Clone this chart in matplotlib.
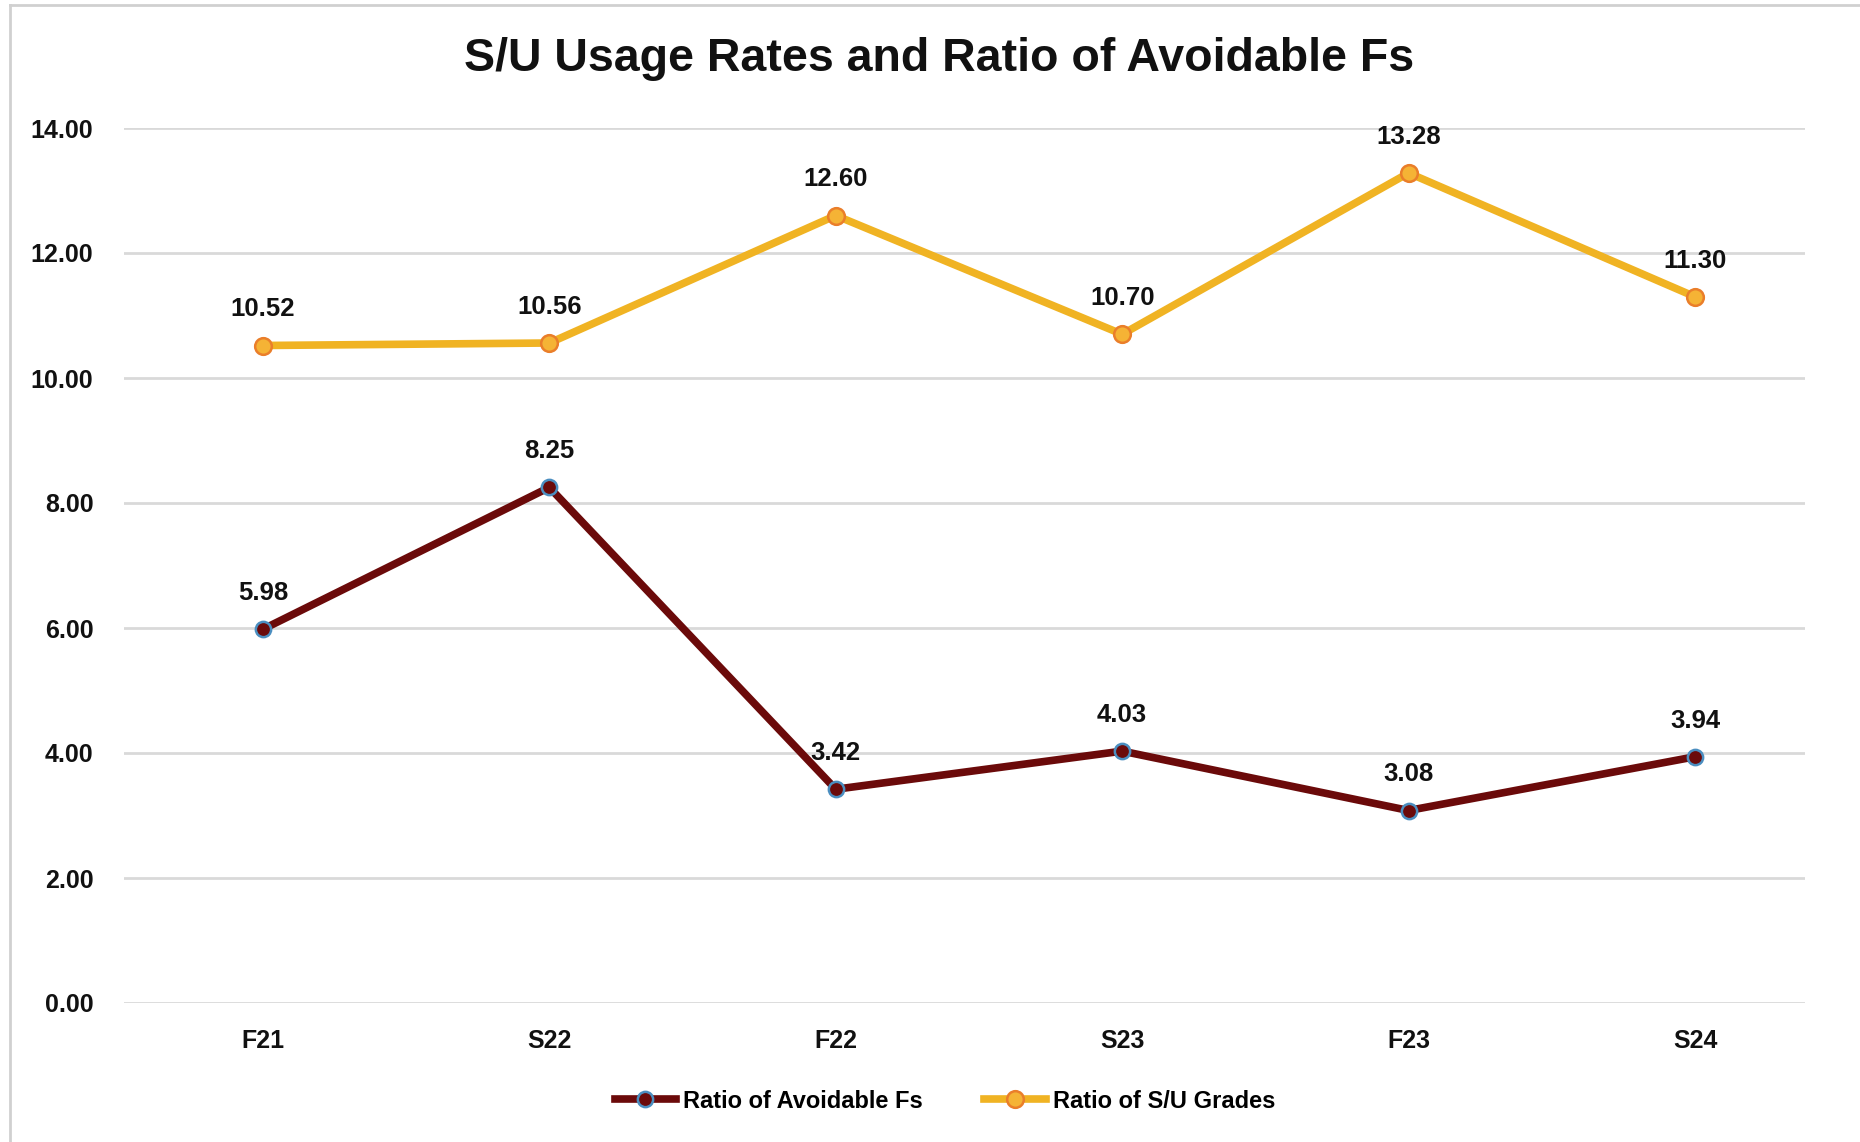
import matplotlib
matplotlib.use("Agg")
import matplotlib.pyplot as plt
from matplotlib.lines import Line2D

categories = ["F21", "S22", "F22", "S23", "F23", "S24"]
avoidable_fs = [5.98, 8.25, 3.42, 4.03, 3.08, 3.94]
su_grades = [10.52, 10.56, 12.60, 10.70, 13.28, 11.30]
y_ticks = [0, 2, 4, 6, 8, 10, 12, 14]

plt.rcParams['font.family'] = ['Liberation Sans', 'DejaVu Sans']

W, H = 1860, 1142
fig = plt.figure(figsize=(W / 100, H / 100), dpi=100)
ax = fig.add_axes([124 / W, 1 - 1003 / H, (1805 - 124) / W, (1003 - 128) / H])

x = list(range(len(categories)))
maroon = "#6B0A0A"
gold = "#F0B323"
LW = 5.5

ax.plot(x, avoidable_fs, color=maroon, lw=LW, marker='o', ms=11,
        mfc=maroon, mec="#4B8EC0", mew=1.8, zorder=3, solid_capstyle='round',
        label="Ratio of Avoidable Fs")
ax.plot(x, su_grades, color=gold, lw=LW, marker='o', ms=12,
        mfc="#F5B335", mec="#EA7E2A", mew=1.8, zorder=3, solid_capstyle='round',
        label="Ratio of S/U Grades")

for xi, v in zip(x, avoidable_fs):
    ax.annotate(f"{v:.2f}", (xi, v), xytext=(0, 26), textcoords='offset points',
                ha='center', va='center', fontsize=18.5, fontweight='bold', color='#111111')
for xi, v in zip(x, su_grades):
    ax.annotate(f"{v:.2f}", (xi, v), xytext=(0, 26), textcoords='offset points',
                ha='center', va='center', fontsize=18.5, fontweight='bold', color='#111111',
                annotation_clip=False)

ax.set_ylim(0, 14)
ax.set_xlim(-0.485, 5.384)
ax.set_yticks(y_ticks)
ax.set_yticklabels([f"{t:.2f}" for t in y_ticks], fontsize=18, fontweight='bold')
ax.set_xticks(x)
ax.set_xticklabels(categories, fontsize=18, fontweight='bold')
ax.tick_params(axis='both', length=0, colors='#111111')
ax.tick_params(axis='y', pad=22)
ax.tick_params(axis='x', pad=19)
for s in ax.spines.values():
    s.set_visible(False)
ax.grid(axis='y', color='#D9D9D9', lw=2)
ax.set_axisbelow(True)

fig.text(939 / W, 1 - 59 / H, "S/U Usage Rates and Ratio of Avoidable Fs",
         ha='center', va='center', fontsize=33.5, fontweight='bold', color='#111111')

handles = [
    Line2D([], [], color=maroon, lw=LW, marker='o', ms=11, mfc=maroon, mec="#4B8EC0", mew=1.8),
    Line2D([], [], color=gold, lw=LW, marker='o', ms=12, mfc="#F5B335", mec="#EA7E2A", mew=1.8),
]
fig.legend(handles, ["Ratio of Avoidable Fs", "Ratio of S/U Grades"],
           loc='center', bbox_to_anchor=(945 / W, 1 - 1101 / H), ncol=2, frameon=False,
           prop={'size': 17, 'weight': 'bold'}, handlelength=2.6, columnspacing=2.6,
           handletextpad=0.3)

# border lines of the original chart frame
fig.add_artist(Line2D([10 / W, 10 / W], [0, 1 - 5 / H], color='#D0D0D0', lw=2, transform=fig.transFigure))
fig.add_artist(Line2D([10 / W, 1], [1 - 5 / H, 1 - 5 / H], color='#D0D0D0', lw=2, transform=fig.transFigure))

fig.savefig("out.png", dpi=100, facecolor='white')
